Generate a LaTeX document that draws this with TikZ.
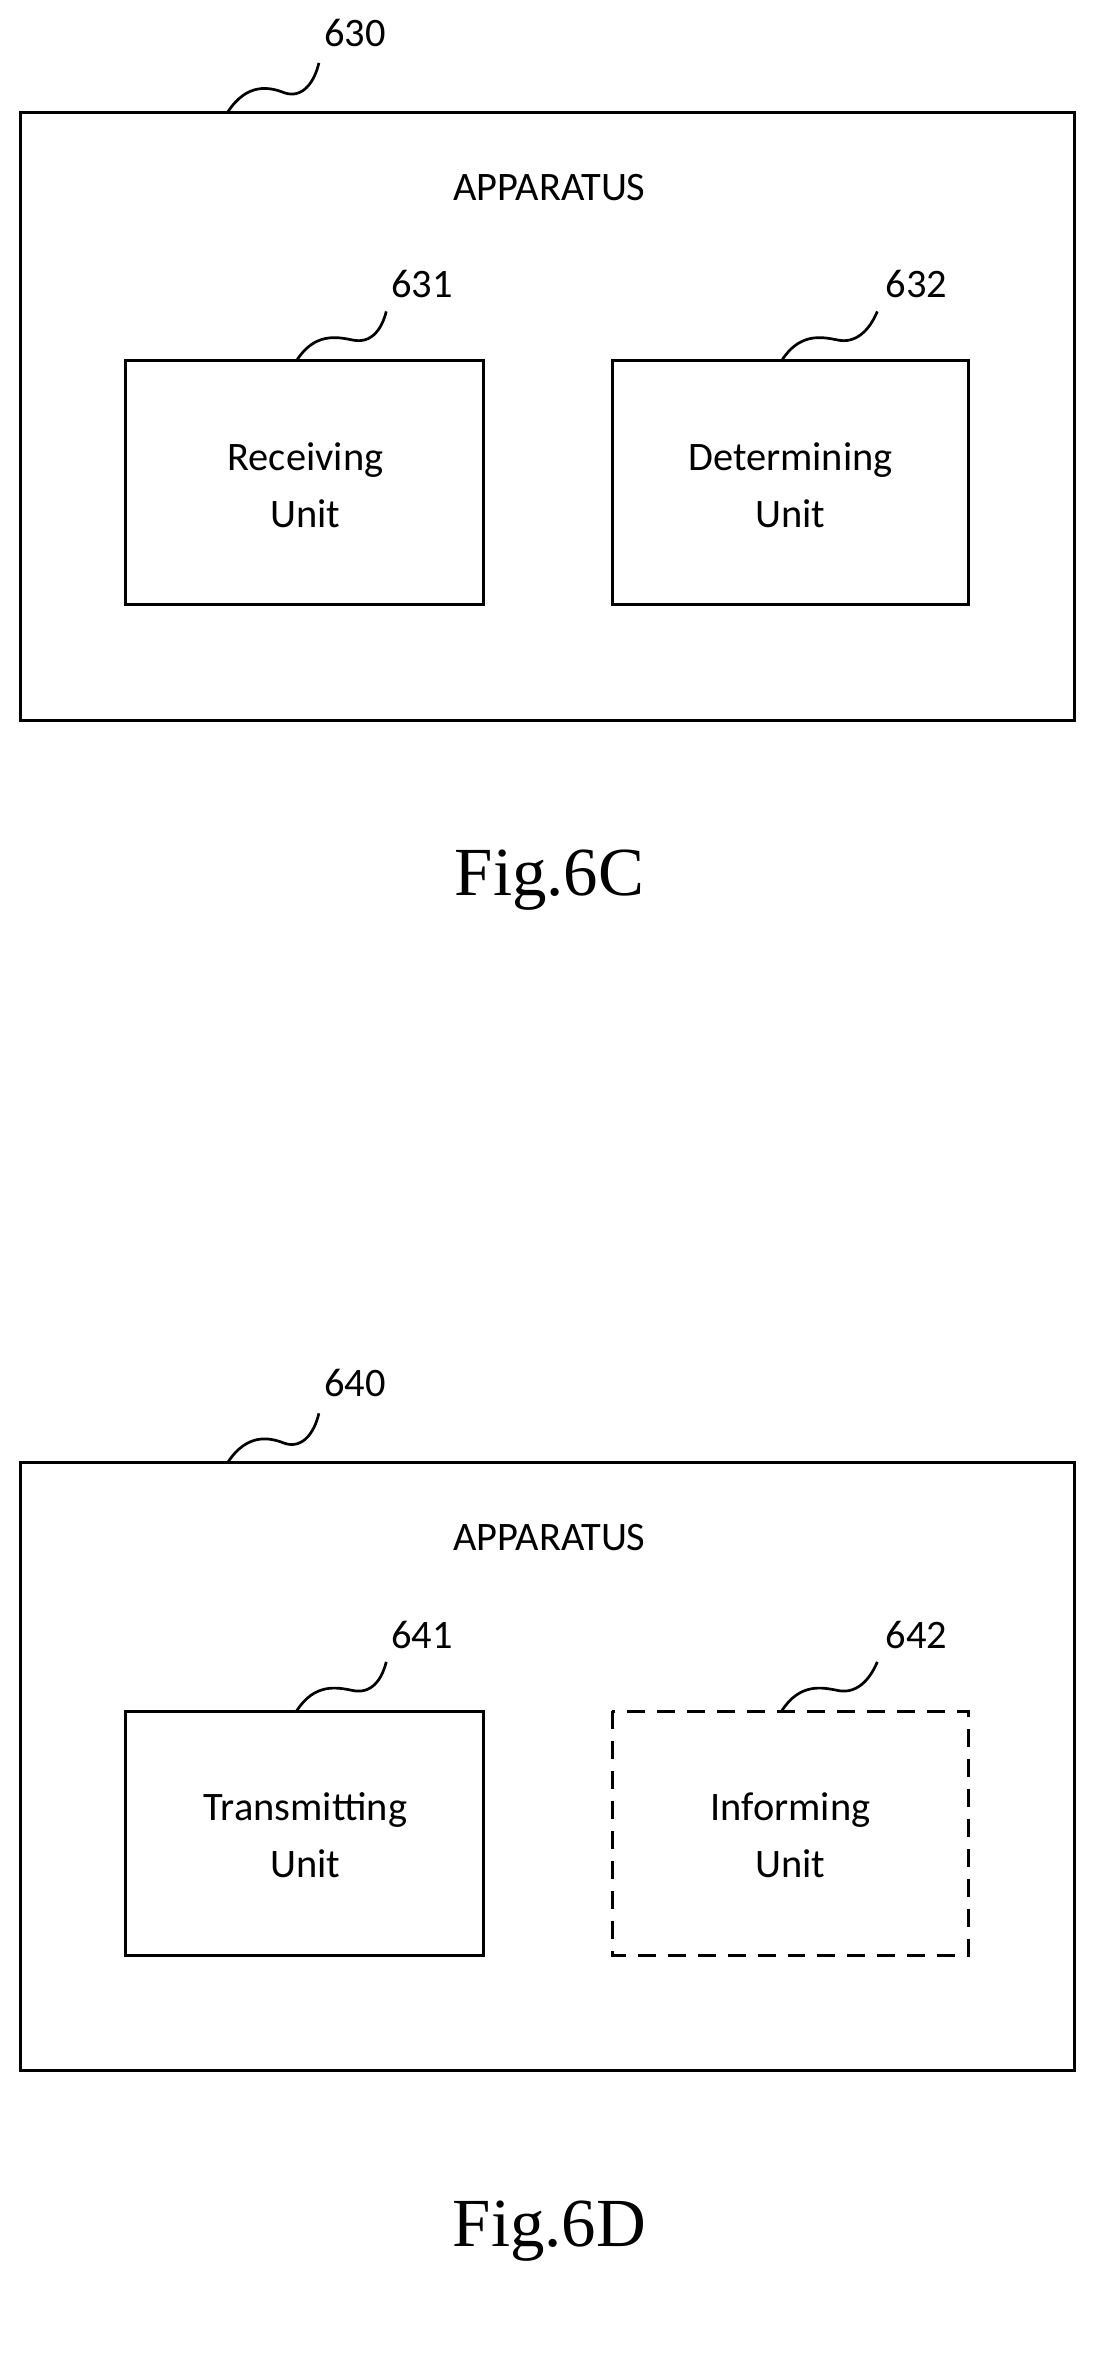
\documentclass[tikz,border=0pt]{standalone}
\usepackage{fontspec}
\setmainfont{Carlito}
\newfontfamily\figfont{Liberation Serif}
\begin{document}
\begin{tikzpicture}[x=1pt,y=-1pt,
  box/.style={draw,line width=2pt},
  dsolid/.style={},
  ddash/.style={dash pattern=on 12pt off 8pt},
  txt/.style={font=\fontsize{27}{38}\selectfont,align=center},
  fig/.style={font=\figfont\fontsize{46}{52}\selectfont},
  sq/.style={line width=1.8pt}]
\useasboundingbox (0,0) rectangle (737,1577);
\foreach \o/\a/\b/\c/\an/\bn/\cn/\dsh in {0/630/631/632/Receiving/Determining/C/dsolid,902/640/641/642/Transmitting/Informing/D/ddash}{
  \begin{scope}[yshift=-\o]
  \draw[box] (14,75) rectangle (718,481);
  \node[txt] (app\a) at (367,125) {APPARATUS};
  \draw[box] (84,241) rectangle (323,404);
  \draw[box,\dsh] (409,241) rectangle (647,404);
  \node[txt] (u\b) at (204,324) {\an\\Unit};
  \node[txt] (u\c) at (528,324) {\bn\\Unit};
  \node[txt] (l\a) at (237,22) {\a};
  \node[txt] (l\b) at (282,190) {\b};
  \node[txt] (l\c) at (612,190) {\c};
  \draw[sq] (152,75) .. controls (165,55) and (180,58) .. (190,62) .. controls (202,66) and (210,55) .. (213,42);
  \draw[sq] (198,241) .. controls (210,222) and (225,225) .. (235,227) .. controls (248,230) and (255,220) .. (258,208);
  \draw[sq] (522,241) .. controls (534,222) and (549,225) .. (559,227) .. controls (572,230) and (581,220) .. (586,208);
  \node[fig] (f\a) at (367,588) {Fig.6\cn};
  \end{scope}}
\end{tikzpicture}
\end{document}
